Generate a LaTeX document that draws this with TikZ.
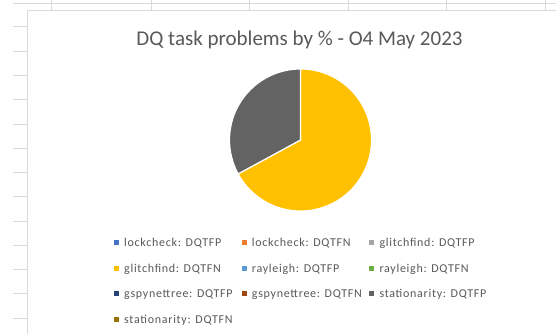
\documentclass[tikz,border=0pt]{standalone}
\usepackage{fontspec}
\setmainfont{Carlito}
\newfontfamily\legfont[LetterSpace=6]{Carlito}
\begin{document}
\begin{tikzpicture}[x=1pt,y=-1pt,
  gridline/.style={draw=black!15,line width=0.9pt},
  legtext/.style={anchor=base west,inner sep=0pt,font=\legfont\fontsize{12}{14}\selectfont,text=black!65},
  legmark/.style={inner sep=0pt,minimum size=5pt}]
\definecolor{cblue}{HTML}{4472C4}
\definecolor{corange}{HTML}{ED7D31}
\definecolor{cgray}{HTML}{A5A5A5}
\definecolor{cgold}{HTML}{FFC000}
\definecolor{clblue}{HTML}{5B9BD5}
\definecolor{cgreen}{HTML}{70AD47}
\definecolor{cdblue}{HTML}{264478}
\definecolor{cbrown}{HTML}{9E480E}
\definecolor{cdgray}{HTML}{636363}
\definecolor{colive}{HTML}{997300}
\fill[white] (0,0) rectangle (556,333);
\useasboundingbox (0,0) rectangle (556,333);
% spreadsheet grid
\draw[gridline] (13,3) -- (556,3);
\foreach \gx in {51,151,249,348,446,545} \draw[gridline] (\gx,0) -- (\gx,10.5);
\foreach \gy in {26.7,51,75.3,99.7,124,148,172.7,196.7,221,245.3,269.3,293.7,318} \draw[gridline] (13,\gy) -- (27,\gy);
% chart frame
\draw[gridline] (27,340) -- (27,10.5) -- (560,10.5);
% title
\node[anchor=base,inner sep=0pt,font=\fontsize{21}{24}\selectfont,text=black!65] (title) at (299.5,45) {DQ task problems by \% - O4 May 2023};
% pie (y axis points down, so angles are mirrored)
\coordinate (c) at (300.5,140);
\fill[cgold,draw=white,line width=1.2pt] (c) -- ++(-90:71) arc[start angle=-90,end angle=151.5,radius=71] -- cycle;
\fill[cdgray,draw=white,line width=1.2pt] (c) -- ++(-90:71) arc[start angle=-90,end angle=-208.5,radius=71] -- cycle;
% legend
\node[legmark,fill=cblue] (m1) at (116.5,242) {};
\node[legtext] (t1) at (124,246.5) {lockcheck: DQTFP};
\node[legmark,fill=corange] (m2) at (244.3,242) {};
\node[legtext] (t2) at (251.7,246.5) {lockcheck: DQTFN};
\node[legmark,fill=cgray] (m3) at (371.7,242) {};
\node[legtext] (t3) at (379.3,246.5) {glitchfind: DQTFP};
\node[legmark,fill=cgold] (m4) at (116.5,268) {};
\node[legtext] (t4) at (124,272.5) {glitchfind: DQTFN};
\node[legmark,fill=clblue] (m5) at (244.3,268) {};
\node[legtext] (t5) at (251.7,272.5) {rayleigh: DQTFP};
\node[legmark,fill=cgreen] (m6) at (371.7,268) {};
\node[legtext] (t6) at (379.3,272.5) {rayleigh: DQTFN};
\node[legmark,fill=cdblue] (m7) at (116.5,293) {};
\node[legtext] (t7) at (124,297.5) {gspynettree: DQTFP};
\node[legmark,fill=cbrown] (m8) at (244.3,293) {};
\node[legtext] (t8) at (251.7,297.5) {gspynettree: DQTFN};
\node[legmark,fill=cdgray] (m9) at (371.7,293) {};
\node[legtext] (t9) at (379.3,297.5) {stationarity: DQTFP};
\node[legmark,fill=colive] (m10) at (116.5,319) {};
\node[legtext] (t10) at (124,323.5) {stationarity: DQTFN};
\end{tikzpicture}
\end{document}
